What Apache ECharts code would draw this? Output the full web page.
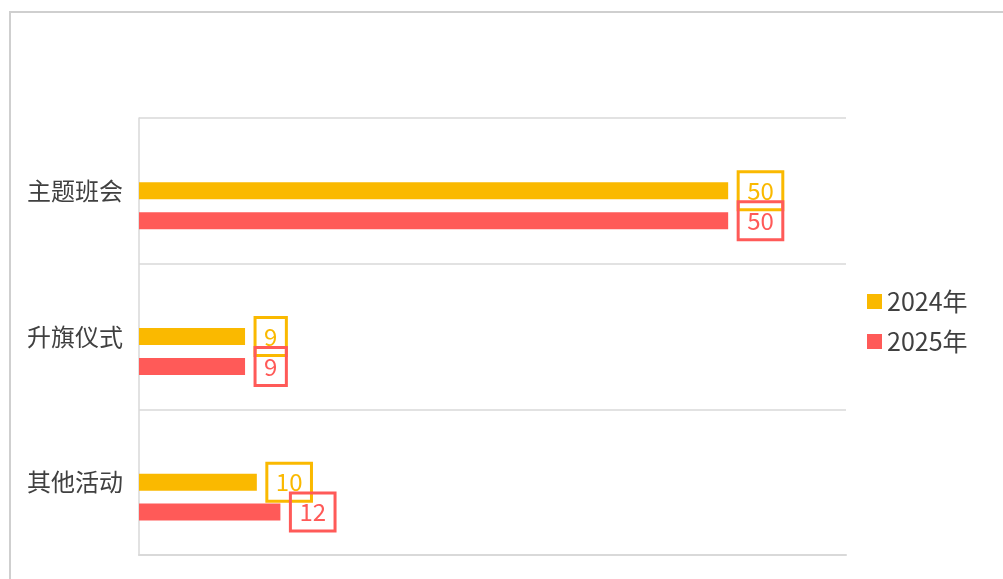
<!DOCTYPE html>
<html>
<head>
<meta charset="utf-8">
<script src="https://cdn.jsdelivr.net/npm/echarts@6/dist/echarts.min.js"></script>
<style>
html,body{margin:0;padding:0;background:#fff;}
#chart{width:1003px;height:579px;}
</style>
</head>
<body>
<div id="chart"></div>
<script>
const categories = ['主题班会', '升旗仪式', '其他活动'];
const seriesNames = ['2024年', '2025年'];
const values2024 = [50, 9, 10];
const values2025 = [50, 9, 12];
const spacerValues = [null, null, null];

const colors = ['#FAB900', '#FF5A58'];
const font = '"Noto Sans CJK SC", "Noto Sans", sans-serif';

function makeLabel(color) {
  return {
    show: true,
    position: 'right',
    distance: 10,
    color: color,
    fontSize: 24,
    fontFamily: font,
    lineHeight: 25,
    borderColor: color,
    borderWidth: 1.5,
    padding: [7, 9, 6, 9],
    backgroundColor: 'transparent'
  };
}

const chart = echarts.init(document.getElementById('chart'));
chart.setOption({
  animation: false,
  backgroundColor: '#fff',
  graphic: [{
    type: 'rect',
    shape: { x: 10, y: 12, width: 1100, height: 700 },
    style: { fill: 'none', stroke: '#cfcfcf', lineWidth: 2 },
    silent: true
  }],
  legend: {
    orient: 'vertical',
    left: 862,
    top: 284,
    itemWidth: 15,
    itemHeight: 15,
    itemGap: 15,
    icon: 'rect',
    textStyle: { fontSize: 25, color: '#404040', fontFamily: font },
    data: seriesNames
  },
  grid: { left: 139, right: 157, top: 118, bottom: 24, containLabel: false },
  xAxis: {
    type: 'value',
    min: 0,
    max: 60,
    axisLabel: { show: false },
    axisTick: { show: false },
    splitLine: { show: false },
    axisLine: { show: true, lineStyle: { color: '#d9d9d9', width: 2 } }
  },
  yAxis: {
    type: 'category',
    inverse: true,
    data: categories,
    axisTick: { show: false },
    axisLine: { show: true, lineStyle: { color: '#d9d9d9', width: 1.5 } },
    splitLine: { show: true, lineStyle: { color: '#d9d9d9', width: 1.5 } },
    axisLabel: {
      fontSize: 24,
      color: '#404040',
      fontFamily: font,
      margin: 16
    }
  },
  series: [
    {
      name: 'spacer',
      type: 'bar',
      data: spacerValues,
      barWidth: 17,
      barGap: '76%',
      silent: true,
      itemStyle: { color: 'transparent' },
      label: { show: false }
    },
    {
      name: seriesNames[0],
      type: 'bar',
      data: values2024,
      barWidth: 17,
      barGap: '76%',
      itemStyle: { color: colors[0] },
      label: makeLabel(colors[0])
    },
    {
      name: seriesNames[1],
      type: 'bar',
      data: values2025,
      barWidth: 17,
      barGap: '76%',
      itemStyle: { color: colors[1] },
      label: makeLabel(colors[1])
    }
  ]
});
</script>
</body>
</html>
